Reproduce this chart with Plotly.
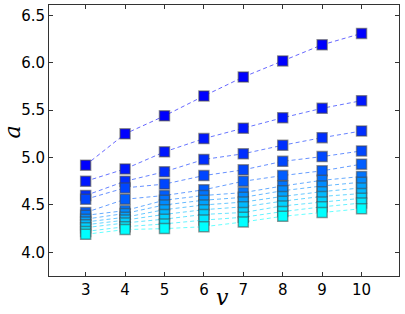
import plotly.graph_objects as go

v = [3, 4, 5, 6, 7, 8, 9, 10]

s1 = [4.92, 5.25, 5.44, 5.65, 5.85, 6.02, 6.19, 6.31]
s2 = [4.75, 4.88, 5.06, 5.20, 5.31, 5.42, 5.52, 5.60]
s3 = [4.60, 4.75, 4.85, 4.98, 5.04, 5.13, 5.21, 5.28]
s4 = [4.56, 4.68, 4.72, 4.81, 4.87, 4.96, 5.01, 5.07]
s5 = [4.42, 4.56, 4.60, 4.66, 4.75, 4.81, 4.86, 4.93]
s6 = [4.39, 4.44, 4.55, 4.60, 4.63, 4.70, 4.76, 4.80]
s7 = [4.35, 4.41, 4.50, 4.55, 4.58, 4.65, 4.70, 4.74]
s8 = [4.32, 4.37, 4.45, 4.50, 4.53, 4.59, 4.64, 4.68]
s9 = [4.29, 4.34, 4.40, 4.45, 4.48, 4.54, 4.59, 4.62]
s10 = [4.26, 4.31, 4.35, 4.40, 4.42, 4.49, 4.53, 4.57]
s11 = [4.22, 4.27, 4.30, 4.34, 4.37, 4.43, 4.48, 4.52]
s12 = [4.19, 4.24, 4.25, 4.27, 4.32, 4.38, 4.42, 4.46]

series = [s1, s2, s3, s4, s5, s6, s7, s8, s9, s10, s11, s12]

yticks = [4.0, 4.5, 5.0, 5.5, 6.0, 6.5]
ytick_labels = ["4.0", "4.5", "5.0", "5.5", "6.0", "6.5"]

fig = go.Figure()
n = len(series)
for i, s in enumerate(series):
    g = int(round(255 * i / (n - 1)))
    fig.add_trace(go.Scatter(
        x=v, y=s, mode="lines",
        line=dict(color=f"rgba(0,{g},255,0.6)", width=1, dash="4px,3px"),
        showlegend=False, hoverinfo="skip"))
for i, s in enumerate(series):
    g = int(round(255 * i / (n - 1)))
    fig.add_trace(go.Scatter(
        x=v, y=s, mode="markers",
        marker=dict(symbol="square", size=10, color=f"rgb(0,{g},255)",
                    line=dict(color="rgba(70,70,70,0.55)", width=1.5)),
        showlegend=False))

axis_common = dict(
    showline=True, linecolor="#333", linewidth=1, mirror="ticks",
    ticks="inside", ticklen=4, tickcolor="#333", showgrid=False, zeroline=False,
    automargin=False,
    tickfont=dict(family="DejaVu Sans", size=15, color="black"),
)

fig.update_xaxes(range=[2.07, 10.95], tickvals=v, ticktext=[str(x) for x in v], **axis_common)
fig.update_yaxes(range=[3.75, 6.61], tickvals=yticks, ticktext=ytick_labels, **axis_common)

fig.add_annotation(text="<i>v</i>", xref="paper", yref="paper", x=0.496, y=-0.079,
                   xanchor="center", yanchor="middle", showarrow=False,
                   font=dict(family="DejaVu Serif", size=22, color="black"))
fig.add_annotation(text="<i>a</i>", xref="paper", yref="paper", x=-0.105, y=0.53,
                   xanchor="center", yanchor="middle", showarrow=False, textangle=-90,
                   font=dict(family="DejaVu Serif", size=22, color="black"))

fig.update_layout(
    width=405, height=314,
    margin=dict(l=49, r=6, t=5, b=38, autoexpand=False),
    plot_bgcolor="white", paper_bgcolor="white",
)

fig.write_html("out.html", config={"displayModeBar": False},
               post_script="document.body.style.margin='0';document.body.style.padding='0';")
